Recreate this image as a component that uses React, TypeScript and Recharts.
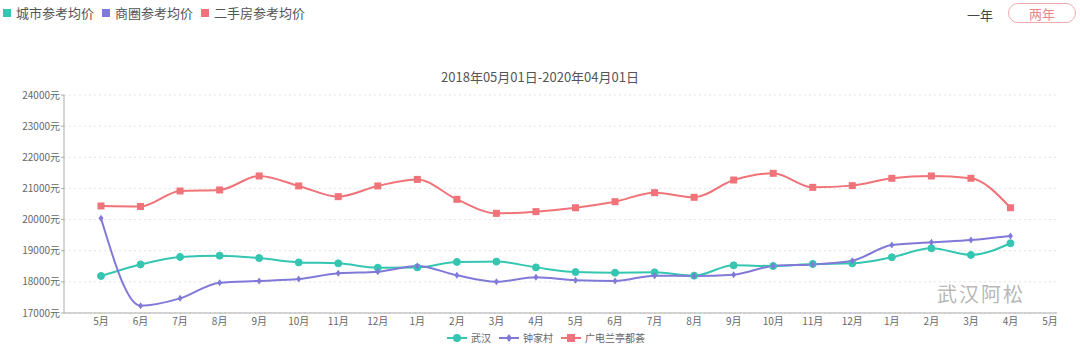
import React from "react";
import { LineChart, Line, XAxis, YAxis, CartesianGrid } from "recharts";

const months = [
  "5月", "6月", "7月", "8月", "9月", "10月", "11月", "12月", "1月", "2月", "3月", "4月",
  "5月", "6月", "7月", "8月", "9月", "10月", "11月", "12月", "1月", "2月", "3月", "4月", "5月",
];

const wuhan = [
  18190, 18560, 18800, 18840, 18765, 18625, 18595, 18455, 18465, 18640, 18650, 18465,
  18315, 18295, 18305, 18200, 18530, 18510, 18575, 18595, 18790, 19080, 18865, 19240,
];
const zhongjiacun = [
  20040, 17235, 17470, 17975, 18030, 18090, 18275, 18325, 18510, 18210, 18005, 18145,
  18050, 18030, 18200, 18190, 18230, 18510, 18560, 18680, 19180, 19270, 19345, 19475,
];
const guangdian = [
  20436, 20420, 20918, 20950, 21400, 21080, 20735, 21080, 21290, 20650, 20200, 20255,
  20380, 20575, 20865, 20715, 21270, 21485, 21035, 21090, 21325, 21400, 21325, 20380,
];

const yTicks = [17000, 18000, 19000, 20000, 21000, 22000, 23000, 24000];

const TEAL = "#35c6b1";
const PURPLE = "#8079d8";
const RED = "#ef7378";
const FONT = "'Noto Sans CJK SC', 'Noto Sans', sans-serif";

const data = months.map((m, i) => ({
  key: i,
  month: m,
  wuhan: wuhan[i] ?? null,
  zhongjiacun: zhongjiacun[i] ?? null,
  guangdian: guangdian[i] ?? null,
}));

const diamondDot = (props: any) => {
  const { cx, cy, key } = props;
  if (cx == null || cy == null) return <g key={key} />;
  return (
    <path
      key={key}
      d={`M${cx},${cy - 3.5}L${cx + 2.5},${cy}L${cx},${cy + 3.5}L${cx - 2.5},${cy}Z`}
      fill={PURPLE}
    />
  );
};

const squareDot = (props: any) => {
  const { cx, cy, key } = props;
  if (cx == null || cy == null) return <g key={key} />;
  return <rect key={key} x={cx - 3.5} y={cy - 3.5} width={7} height={7} fill={RED} />;
};

const LegendSwatch = ({ color, label }: { color: string; label: string }) => (
  <span style={{ display: "inline-flex", alignItems: "center", marginRight: 8 }}>
    <span style={{ width: 8, height: 8, background: color, display: "inline-block", marginRight: 5 }} />
    <span>{label}</span>
  </span>
);

const BottomItem = ({ color, label, shape }: { color: string; label: string; shape: string }) => (
  <span style={{ display: "inline-flex", alignItems: "center", marginRight: 8 }}>
    <svg width={20} height={10} style={{ marginRight: 4 }}>
      <line x1={0} y1={5} x2={20} y2={5} stroke={color} strokeWidth={2} />
      {shape === "circle" && <circle cx={10} cy={5} r={4} fill={color} />}
      {shape === "diamond" && <path d="M10,1L13,5L10,9L7,5Z" fill={color} />}
      {shape === "square" && <rect x={6} y={1} width={8} height={8} fill={color} />}
    </svg>
    <span>{label}</span>
  </span>
);

export default function App() {
  return (
    <div style={{ position: "relative", width: 1080, height: 357, background: "#fff", fontFamily: FONT, color: "#555" }}>
      <style>{`body{margin:0}`}</style>
      <div style={{ position: "absolute", left: 3, top: 3, fontSize: 13, display: "flex" }}>
        <LegendSwatch color={TEAL} label="城市参考均价" />
        <LegendSwatch color={PURPLE} label="商圈参考均价" />
        <LegendSwatch color={RED} label="二手房参考均价" />
      </div>
      <div style={{ position: "absolute", left: 967, top: 5, fontSize: 13, color: "#444" }}>一年</div>
      <div
        style={{
          position: "absolute",
          left: 1008,
          top: 3,
          width: 68,
          height: 20,
          border: "1px solid #efaaae",
          borderRadius: 11,
          color: "#e8868a",
          fontSize: 13,
          textAlign: "center",
          lineHeight: "20px",
          boxSizing: "border-box",
        }}
      >
        两年
      </div>
      <div style={{ position: "absolute", left: 0, width: 1080, top: 67, textAlign: "center", fontSize: 13, color: "#555" }}>
        2018年05月01日-2020年04月01日
      </div>
      <LineChart
        width={1080}
        height={357}
        data={data}
        margin={{ top: 95, right: 23, bottom: 14, left: 0 }}
        style={{ fontFamily: FONT }}
      >
        <CartesianGrid vertical={false} stroke="#e3e3e3" strokeDasharray="2 3" />
        <XAxis
          dataKey="key"
          tickFormatter={(i: number) => months[i]}
          interval={0}
          padding={{ left: 37, right: 7 }}
          tickLine={false}
          axisLine={{ stroke: "#aaa" }}
          tick={{ fontSize: 10, fill: "#666" }}
          tickSize={5}
          tickMargin={0}
        />
        <YAxis
          width={64}
          domain={[17000, 24000]}
          ticks={yTicks}
          interval={0}
          tickFormatter={(v: number) => `${v}元`}
          axisLine={{ stroke: "#aaa" }}
          tickLine={{ stroke: "#aaa" }}
          tickSize={3}
          tickMargin={1}
          tick={{ fontSize: 10, fill: "#666" }}
        />
        <Line type="monotone" dataKey="guangdian" stroke={RED} strokeWidth={2} dot={squareDot} isAnimationActive={false} />
        <Line type="monotone" dataKey="wuhan" stroke={TEAL} strokeWidth={2} dot={{ r: 3.5, fill: TEAL, stroke: TEAL, strokeWidth: 1 }} isAnimationActive={false} />
        <Line type="monotone" dataKey="zhongjiacun" stroke={PURPLE} strokeWidth={2} dot={diamondDot} isAnimationActive={false} />
      </LineChart>
      <div style={{ position: "absolute", left: 447, top: 330, fontSize: 10, display: "flex", color: "#666" }}>
        <BottomItem color={TEAL} label="武汉" shape="circle" />
        <BottomItem color={PURPLE} label="钟家村" shape="diamond" />
        <BottomItem color={RED} label="广电兰亭都荟" shape="square" />
      </div>
      <div style={{ position: "absolute", left: 937, top: 284, fontSize: 20, lineHeight: 1, color: "rgba(120,120,120,0.55)", letterSpacing: 2 }}>
        武汉阿松
      </div>
    </div>
  );
}
